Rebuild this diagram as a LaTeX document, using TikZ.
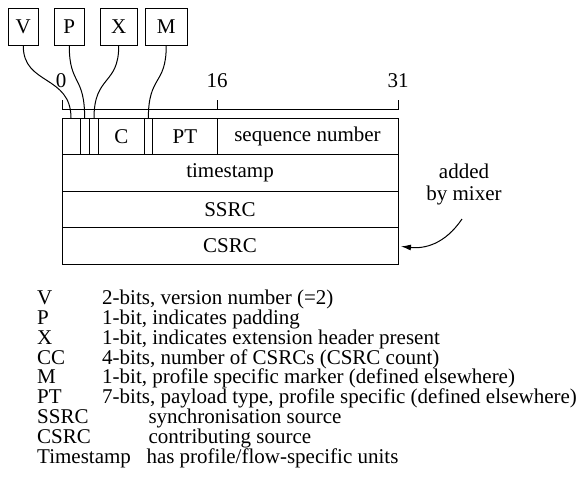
\documentclass[tikz,border=0pt]{standalone}
\usepackage{fontspec}
\setmainfont{Liberation Serif}
\usepackage{tikz}
\usetikzlibrary{arrows.meta, positioning}

\begin{document}
\begin{tikzpicture}[
    x=1pt, y=-1pt,
    line width=1pt,
    font=\fontsize{21}{22}\selectfont,
    bitbox/.style={draw, inner sep=0pt, minimum height=37.4pt},
    field/.style={draw, inner sep=0pt, outer sep=0pt, minimum height=36.6pt},
    row/.style={field, minimum width=336pt},
    legkey/.style={anchor=base west, inner sep=0pt},
    arrow/.style={-{Latex[length=10pt, width=6pt]}}
]
\useasboundingbox (0,0) rectangle (583,499);

% Flag boxes
\node[bitbox, minimum width=30pt] (vbox) at (23.3,27) {V};
\node[bitbox, minimum width=30pt] (pbox) at (69.3,27) {P};
\node[bitbox, minimum width=37.3pt] (xbox) at (118.7,27) {X};
\node[bitbox, minimum width=42.3pt] (mbox) at (166.2,27) {M};

% Bit ruler
\node (bit0) at (61,81) {0};
\node (bit16) at (217,81) {16};
\node (bit31) at (398,81) {31};
\draw (62,100) -- (62,109.3) -- (398,109.3) -- (398,100);
\draw (217,100) -- (217,109.3);

% Header fields
\node[field, minimum width=18pt, anchor=north west] (vbit) at (62,118) {};
\node[field, minimum width=9.3pt, right=0pt of vbit] (pbit) {};
\node[field, minimum width=9.4pt, right=0pt of pbit] (xbit) {};
\node[field, minimum width=45.3pt, right=0pt of xbit] (ccbit) {C};
\node[field, minimum width=8.7pt, right=0pt of ccbit] (mbit) {};
\node[field, minimum width=64.3pt, right=0pt of mbit] (ptbit) {PT};
\node[field, minimum width=181pt, right=0pt of ptbit] (seqbit) {sequence number};
\node[row, anchor=north west] (tstamp) at (vbit.south west) {timestamp};
\node[row, below=0pt of tstamp] (ssrc) {SSRC};
\node[row, below=0pt of ssrc] (csrc) {CSRC};

% Mixer note
\node[align=center] (mixer) at (464,184) {added\\by mixer};
\coordinate (mixtail) at (462,219);

% Edges
\draw (vbox.south) .. controls +(0,39) and +(0,-43) .. (vbit.north);
\draw (pbox.south) .. controls +(0,39) and +(0,-43) .. (pbit.north);
\draw (xbox.south) .. controls +(0,39) and +(0,-43) .. (xbit.north);
\draw (mbox.south) .. controls +(0,39) and +(0,-43) .. (mbit.north);
\draw[arrow, shorten >=3pt] (mixtail) .. controls (445,244) and (425,249) .. (csrc.east);

% Legend
\node[legkey] (kv) at (36.7,304) {V};
\node[legkey] (dv) at (101.7,304) {2-bits, version number (=2)};
\node[legkey] (kp) at (36.7,324) {P};
\node[legkey] (dp) at (101.7,324) {1-bit, indicates padding};
\node[legkey] (kx) at (36.7,344) {X};
\node[legkey] (dx) at (101.7,344) {1-bit, indicates extension header present};
\node[legkey] (kcc) at (36.7,364) {CC};
\node[legkey] (dcc) at (101.7,364) {4-bits, number of CSRCs (CSRC count)};
\node[legkey] (km) at (36.7,383) {M};
\node[legkey] (dm) at (101.7,383) {1-bit, profile specific marker (defined elsewhere)};
\node[legkey] (kpt) at (36.7,403) {PT};
\node[legkey] (dpt) at (101.7,403) {7-bits, payload type, profile specific (defined elsewhere)};
\node[legkey] (kssrc) at (36.7,423) {SSRC};
\node[legkey] (dssrc) at (148,423) {synchronisation source};
\node[legkey] (kcsrc) at (36.7,443) {CSRC};
\node[legkey] (dcsrc) at (148,443) {contributing source};
\node[legkey] (kts) at (36.7,463) {Timestamp};
\node[legkey] (dts) at (146,463) {has profile/flow-specific units};

\end{tikzpicture}
\end{document}
